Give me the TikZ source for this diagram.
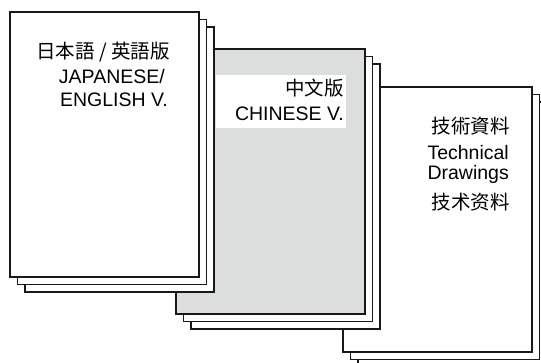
\documentclass[tikz,border=0pt]{standalone}
\usepackage{fontspec}
\setmainfont{Liberation Sans}
\newfontfamily\cjkjp{Noto Sans CJK JP}
\newfontfamily\cjksc{Noto Sans CJK SC}
\definecolor{sheetgray}{HTML}{DCDDDD}
\tikzset{
  sheet/.style={draw=black!90, fill=white, line width=1.1pt},
  label/.style={anchor=base east, inner sep=0pt, font=\fontsize{19.5}{22}\selectfont}
}
\begin{document}
\begin{tikzpicture}[x=1pt,y=-1pt]
  \useasboundingbox (0,0) rectangle (541,363);
  % three stacks of sheets, back to front
  \foreach \sx/\sy/\col/\lw in {343/87/white/1.1pt, 176/49/sheetgray/2.2pt, 10/12/white/1.1pt} {
    \foreach \k in {2,1}
      \draw[sheet] (\sx+7.5*\k,\sy+7.5*\k) rectangle ++(189,265);
    \draw[sheet, fill=\col, line width=\lw] (\sx,\sy) rectangle ++(189,265);
  }
  \fill[white] (216,75) rectangle (346,128);
  % left stack
  \node[label] (jp) at (170,59) {\cjkjp 日本語 / 英語版};
  \node[label] (jpen) at (165,84) {JAPANESE/};
  \node[label] (jpen2) at (168,107) {ENGLISH V.};
  % middle stack
  \node[label] (cn) at (344,96) {\cjksc 中文版};
  \node[label] (cnen) at (344,121) {CHINESE V.};
  % right stack
  \node[label] (tc) at (510,134) {\cjkjp 技術資料};
  \node[label] (tden) at (509,160) {Technical};
  \node[label] (tden2) at (509,180) {Drawings};
  \node[label] (sc) at (510,210) {\cjksc 技术资料};
\end{tikzpicture}
\end{document}
